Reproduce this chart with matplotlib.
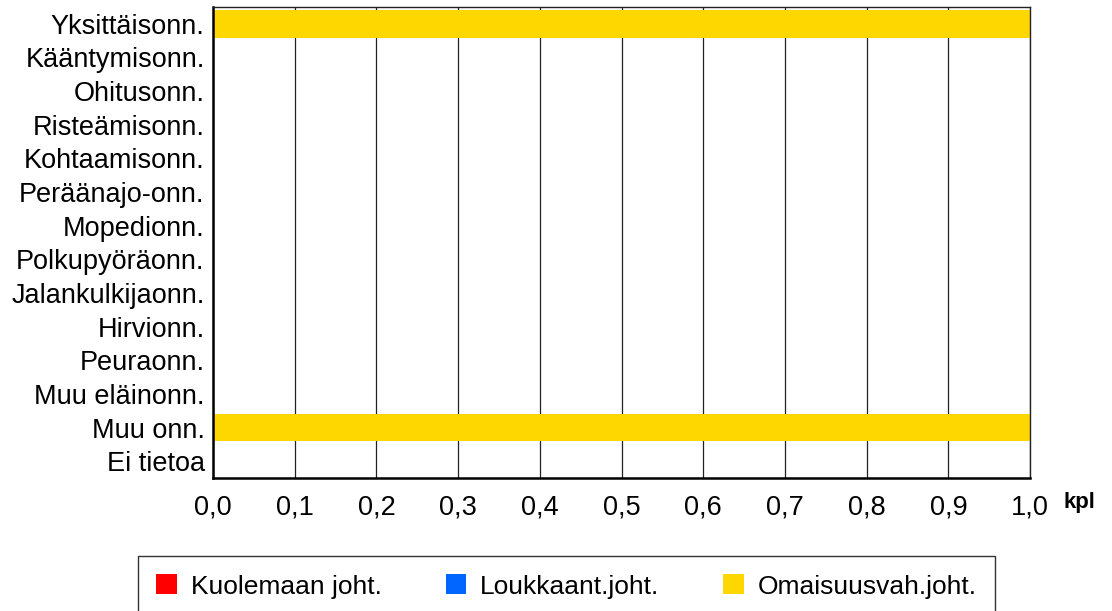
import matplotlib
matplotlib.use('Agg')
import matplotlib.pyplot as plt
from matplotlib.ticker import FuncFormatter

plt.rcParams.update({
    'font.family': ['Liberation Sans', 'DejaVu Sans'],
    'font.size': 19.5,
})

categories = ['Yksittäisonn.', 'Kääntymisonn.', 'Ohitusonn.', 'Risteämisonn.',
              'Kohtaamisonn.', 'Peräänajo-onn.', 'Mopedionn.', 'Polkupyöräonn.',
              'Jalankulkijaonn.', 'Hirvionn.', 'Peuraonn.', 'Muu eläinonn.',
              'Muu onn.', 'Ei tietoa']
kuolemaan = [0, 0, 0, 0, 0, 0, 0, 0, 0, 0, 0, 0, 0, 0]
loukkaant = [0, 0, 0, 0, 0, 0, 0, 0, 0, 0, 0, 0, 0, 0]
omaisuus = [1, 0, 0, 0, 0, 0, 0, 0, 0, 0, 0, 0, 1, 0]
series_names = ['Kuolemaan joht.', 'Loukkaant.joht.', 'Omaisuusvah.joht.']
colors = ['#FF0000', '#0066FF', '#FFD700']

fig = plt.figure(figsize=(11.12, 6.11), dpi=100)
ax = fig.add_axes([0.1916, 0.2177, 0.7347, 0.7708])

y = list(range(len(categories)))
left = [0] * len(categories)
handles = []
for vals, name, c in zip([kuolemaan, loukkaant, omaisuus], series_names, colors):
    b = ax.barh(y, vals, left=left, height=0.82, color=c, label=name, zorder=2)
    handles.append(b)
    left = [l + v for l, v in zip(left, vals)]

ax.set_xlim(0, 1.0)
ax.set_ylim(len(categories) - 0.5, -0.5)
ax.set_yticks(y)
ax.set_yticklabels(categories)
ax.set_xticks([i / 10 for i in range(11)])
ax.xaxis.set_major_formatter(FuncFormatter(lambda v, p: f'{v:.1f}'.replace('.', ',')))
ax.tick_params(length=0)
ax.tick_params(axis='y', pad=6)
ax.tick_params(axis='x', pad=12)
ax.grid(axis='x', color='#222222', linewidth=0.9, zorder=1)
ax.set_axisbelow(True)

for s in ['left', 'bottom']:
    ax.spines[s].set_linewidth(1.8)
    ax.spines[s].set_color('black')
for s in ['top', 'right']:
    ax.spines[s].set_linewidth(1.0)
    ax.spines[s].set_color('#222222')

fig.text(0.956, 0.195, 'kpl', fontsize=16, fontweight='bold', va='top', ha='left')

leg = fig.legend(handles=handles, loc='upper left', bbox_to_anchor=(0.1241, 0.0900),
                 ncol=3, fontsize=19, frameon=True, fancybox=False,
                 edgecolor='#333333', framealpha=1, borderpad=0.7,
                 borderaxespad=0, handlelength=0.79, handleheight=0.79,
                 handletextpad=0.53, columnspacing=2.4)
leg.get_frame().set_linewidth(1.0)

fig.savefig('out.png', dpi=100)
